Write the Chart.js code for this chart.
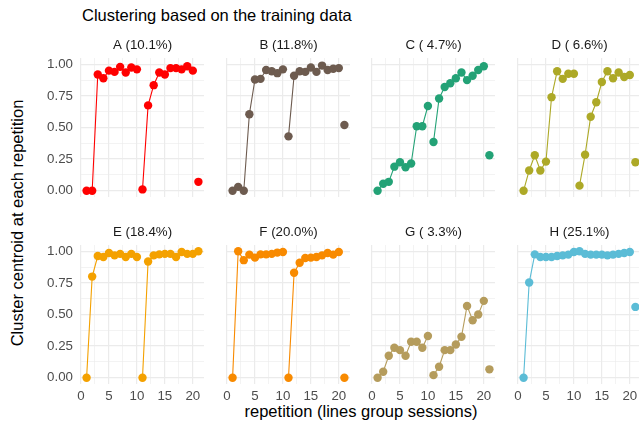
<!DOCTYPE html>
<html>
<head>
<meta charset="utf-8">
<script src="https://cdn.jsdelivr.net/npm/chart.js@4.4.1/dist/chart.umd.min.js"></script>
<style>
  html, body { margin: 0; padding: 0; background: #fff; overflow: hidden; width: 639px; height: 426px; }
  body { position: relative; font-family: "Liberation Sans", Arial, sans-serif; }
  canvas { position: absolute; }
  .txt { position: absolute; color: #000; font-size: 16.5px; line-height: 20px; white-space: nowrap; }
</style>
</head>
<body>
<div class="txt" style="left:82px; top:5px;">Clustering based on the training data</div>
<div class="txt" style="left:361px; top:401px; transform:translateX(-50%);">repetition (lines group sessions)</div>
<div class="txt" style="left:17px; top:223px; transform:translate(-50%,-50%) rotate(-90deg);">Cluster centroid at each repetition</div>

<script>
// Wiederholungen (x-Achse)
const reps = [1, 2, 3, 4, 5, 6, 7, 8, 9, 10, 11, 12, 13, 14, 15, 16, 17, 18, 19, 20, 21];

// Panel-Titel
const panelNames = ['A (10.1%)', 'B (11.8%)', 'C ( 4.7%)', 'D ( 6.6%)',
                    'E (18.4%)', 'F (20.0%)', 'G ( 3.3%)', 'H (25.1%)'];

// Werte pro Cluster
const clusterA = [0.00, 0.00, 0.92, 0.89, 0.95, 0.94, 0.98, 0.935, 0.975, 0.96,
                  0.01, 0.675, 0.835, 0.935, 0.92, 0.97, 0.97, 0.96, 0.985, 0.95, 0.07];
const clusterB = [0.00, 0.03, 0.00, 0.605, 0.88, 0.885, 0.955, 0.945, 0.93, 0.96,
                  0.43, 0.91, 0.945, 0.94, 0.975, 0.94, 0.99, 0.955, 0.965, 0.97, 0.52];
const clusterC = [0.00, 0.055, 0.07, 0.19, 0.225, 0.185, 0.215, 0.51, 0.51, 0.67,
                  0.385, 0.73, 0.82, 0.85, 0.89, 0.935, 0.875, 0.91, 0.955, 0.985, 0.28];
const clusterD = [0.00, 0.16, 0.28, 0.16, 0.23, 0.74, 0.945, 0.885, 0.925, 0.925,
                  0.04, 0.285, 0.585, 0.70, 0.86, 0.945, 0.89, 0.935, 0.90, 0.915, 0.225];
const clusterE = [0.00, 0.80, 0.963, 0.955, 0.987, 0.968, 0.98, 0.955, 0.98, 0.955,
                  0.00, 0.92, 0.968, 0.976, 0.98, 0.98, 0.955, 0.995, 0.98, 0.98, 1.00];
const clusterF = [0.00, 1.00, 0.93, 0.974, 0.95, 0.976, 0.976, 0.98, 0.99, 0.995,
                  0.00, 0.83, 0.91, 0.947, 0.95, 0.955, 0.968, 0.987, 0.974, 0.995, 0.00];
const clusterG = [0.00, 0.047, 0.174, 0.237, 0.218, 0.174, 0.284, 0.284, 0.237, 0.33,
                  0.02, 0.087, 0.218, 0.218, 0.263, 0.324, 0.568, 0.455, 0.50, 0.608, 0.066];
const clusterH = [0.00, 0.753, 0.976, 0.955, 0.955, 0.955, 0.963, 0.968, 0.974, 0.995,
                  1.00, 0.98, 0.974, 0.974, 0.974, 0.968, 0.974, 0.98, 0.987, 0.995, 0.56];

const allClusters = [clusterA, clusterB, clusterC, clusterD, clusterE, clusterF, clusterG, clusterH];

// Farben (Darjeeling1, auf 8 interpoliert)
const colors = ['#FF0000', '#6D5B4F', '#23A276', '#ADA927', '#F4A100', '#F88A00', '#B59C5C', '#5BBCD6'];

// Nach diesen Indizes wird die Linie unterbrochen (Session-Ende)
const breakAfter = [9, 19];

// Tick-Positionen
const xTicks = [0, 2.5, 5, 7.5, 10, 12.5, 15, 17.5, 20];
const yTicks = [0, 0.125, 0.25, 0.375, 0.5, 0.625, 0.75, 0.875, 1];

// Layout der Panels
const colLeft = [81, 227, 372, 518];
const rowTop = [58, 245];
const panelW = 123, panelH = 139;
const padL = 45, padR = 6, padT = 26, padB = 22;

// Plugin fuer die Streifen-Beschriftung ueber jedem Panel
const stripLabel = {
    id: 'stripLabel',
    afterDraw(chart, args, opts) {
        const a = chart.chartArea;
        const c = chart.ctx;
        c.save();
        c.font = '13.3px "Liberation Sans", Arial, sans-serif';
        c.fillStyle = '#1A1A1A';
        c.textAlign = 'center';
        c.textBaseline = 'middle';
        c.fillText(opts.text, (a.left + a.right) / 2, a.top - 12.5);
        c.restore();
    }
};

function isMajor(v, step) {
    return Math.abs(v / step - Math.round(v / step)) < 1e-6;
}

function makePanel(idx) {
    const col = idx % 4, row = Math.floor(idx / 4);
    const canvas = document.createElement('canvas');
    canvas.width = padL + panelW + padR;
    canvas.height = padT + panelH + padB;
    canvas.style.left = (colLeft[col] - padL) + 'px';
    canvas.style.top = (rowTop[row] - padT) + 'px';
    canvas.style.width = canvas.width + 'px';
    canvas.style.height = canvas.height + 'px';
    document.body.appendChild(canvas);

    const color = colors[idx];
    const vals = allClusters[idx];

    new Chart(canvas.getContext('2d'), {
        type: 'line',
        data: {
            datasets: [{
                data: vals.map((v, i) => ({ x: reps[i], y: v })),
                borderColor: color,
                backgroundColor: color,
                pointBackgroundColor: color,
                pointBorderWidth: 0,
                pointRadius: 4.2,
                borderWidth: 1.1,
                tension: 0,
                clip: false,
                segment: {
                    borderColor: ctx => breakAfter.includes(ctx.p0DataIndex) ? 'rgba(0,0,0,0)' : color
                }
            }]
        },
        options: {
            responsive: false,
            animation: false,
            events: [],
            layout: { padding: { left: 0, right: padR, top: padT, bottom: 0 } },
            plugins: {
                legend: { display: false },
                tooltip: { enabled: false },
                stripLabel: { text: panelNames[idx] }
            },
            scales: {
                x: {
                    type: 'linear',
                    min: 0,
                    max: 22,
                    afterBuildTicks: s => { s.ticks = xTicks.map(v => ({ value: v })); },
                    afterFit: s => { s.height = padB; },
                    border: { display: false },
                    grid: {
                        drawTicks: false,
                        color: '#EBEBEB',
                        lineWidth: ctx => (ctx.tick && isMajor(ctx.tick.value, 5)) ? 1.2 : 0.6
                    },
                    ticks: {
                        display: row === 1,
                        autoSkip: false,
                        maxRotation: 0,
                        padding: 4,
                        color: '#4D4D4D',
                        font: { family: '"Liberation Sans", Arial, sans-serif', size: 13.3 },
                        callback: v => isMajor(v, 5) ? String(v) : ''
                    }
                },
                y: {
                    type: 'linear',
                    min: -0.05,
                    max: 1.05,
                    afterBuildTicks: s => { s.ticks = yTicks.map(v => ({ value: v })); },
                    afterFit: s => { s.width = padL; },
                    border: { display: false },
                    grid: {
                        drawTicks: false,
                        color: '#EBEBEB',
                        lineWidth: ctx => (ctx.tick && isMajor(ctx.tick.value, 0.25)) ? 1.2 : 0.6
                    },
                    ticks: {
                        display: col === 0,
                        autoSkip: false,
                        padding: 8,
                        color: '#4D4D4D',
                        font: { family: '"Liberation Sans", Arial, sans-serif', size: 13.3 },
                        callback: v => isMajor(v, 0.25) ? v.toFixed(2) : ''
                    }
                }
            }
        },
        plugins: [stripLabel]
    });
}

for (let i = 0; i < 8; i++) makePanel(i);
</script>
</body>
</html>
